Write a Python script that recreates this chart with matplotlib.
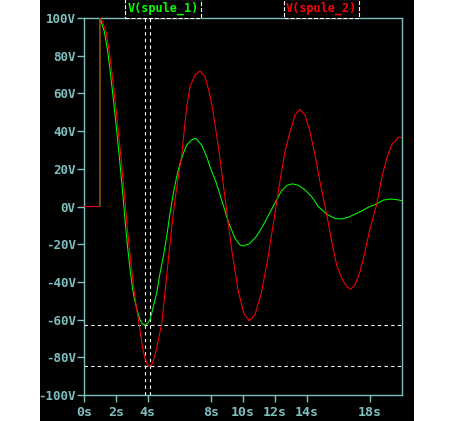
import matplotlib
matplotlib.use("Agg")
import matplotlib.pyplot as plt
from matplotlib.patches import Rectangle

# V(spule_2) - red trace
t_red = [0, 1.0, 1.0, 1.07, 1.2, 1.38, 1.55, 1.70, 1.85, 2.01, 2.17, 2.33, 2.47, 2.60,
         2.72, 2.85, 3.0, 3.13, 3.28, 3.44, 3.57, 3.69, 3.85, 4.0, 4.15, 4.26, 4.47,
         4.67, 4.89, 5.09, 5.30, 5.52, 5.72, 5.93, 6.14, 6.25, 6.46, 6.67, 6.98, 7.30,
         7.61, 7.88, 8.1, 8.5, 8.9, 9.3, 9.7, 10.05, 10.40, 10.75, 11.15, 11.55, 11.95,
         12.35, 12.64, 12.96, 13.27, 13.58, 13.9, 14.21, 14.53, 14.84, 15.26, 15.58,
         15.89, 16.21, 16.52, 16.77, 17.04, 17.36, 17.67, 17.99, 18.41, 18.72, 19.04,
         19.35, 19.77, 20.0]
v_red = [0, 0, 100, 99.5, 97, 92.7, 84.5, 75.1, 64, 52.1, 39, 25.6, 13, 0.8,
         -11, -22.2, -33.5, -43.4, -52.5, -61.1, -68.5, -75.2, -81, -84, -84.8, -84, -79,
         -71, -62, -46, -28.4, -10.7, 3.4, 15.8, 27, 36, 53, 63.6, 69.8, 71.9,
         68.9, 60.5, 51.3, 28.7, 2.3, -23.6, -44.8, -56.7, -60.7, -57.4, -46.0, -28.2, -6.8,
         14.9, 29.1, 39.7, 48.5, 51.5, 48.5, 39.7, 27.3, 13.2, -4, -18.7,
         -31, -38.1, -42.5, -43.9, -41.6, -34.6, -24, -11.6, 1.2, 15, 25.6,
         32.6, 36.7, 36.7]

# V(spule_1) - green trace
t_green = [0, 1.0, 1.0, 1.1, 1.28, 1.45, 1.6, 1.75, 1.91, 2.07, 2.23, 2.37, 2.50, 2.62,
           2.75, 2.9, 3.05, 3.2, 3.35, 3.5, 3.65, 3.84, 4.0, 4.15, 4.36, 4.57, 4.78,
           4.99, 5.20, 5.41, 5.62, 5.83, 6.04, 6.25, 6.46, 6.77, 7.02, 7.40, 7.72, 7.92,
           8.3, 8.7, 9.1, 9.5, 9.8, 10.02, 10.4, 10.8, 11.2, 11.6, 12.0, 12.4, 12.75,
           13.1, 13.48, 13.9, 14.32, 14.74, 15.26, 15.79, 16.21, 16.62, 17.04, 17.46,
           17.88, 18.41, 18.83, 19.31, 19.77, 20.0]
v_green = [0, 0, 100, 97.5, 92.7, 84.5, 75.1, 64, 52.1, 39, 25.6, 13, 0.8, -11,
           -22.2, -33.5, -43.4, -50, -55.5, -59.5, -62.2, -62.9, -62, -60.2, -53.1, -46, -35.4,
           -26.6, -16, -3.6, 7, 15.8, 22.9, 28.2, 32.6, 35.3, 36.2, 32.6, 26.4, 21.1,
           13, 2.3, -8.7, -16.9, -20.3, -21.0, -19.8, -16.3, -11.0, -4.7, 1.7, 8.0, 11.2,
           12, 11.3, 8.8, 5.2, -0.1, -4.0, -6.4, -6.6, -5.7, -4.1, -2.4,
           -0.4, 1.4, 3.4, 4.0, 3.5, 3.0]

cursor_t = [3.86, 4.17]
cursor_v = [-62.9, -84.8]

x_ticks = [0, 2, 4, 8, 10, 12, 14, 18]
y_ticks = list(range(-100, 101, 20))

TEAL = "#7fbfbf"
FONT = dict(family="DejaVu Sans Mono", weight="bold")

fig = plt.figure(figsize=(4.55, 4.21), dpi=100, facecolor="white")
fig.patches.append(Rectangle((40 / 455, 0), 374 / 455, 1, transform=fig.transFigure,
                             facecolor="black", edgecolor="none", zorder=-10))
ax = fig.add_axes([84 / 455, 26 / 421, 318 / 455, 377 / 421])
ax.set_facecolor("black")

ax.plot(t_green, v_green, color="#00ff00", lw=0.75, zorder=3)
ax.plot(t_red, v_red, color="#ff0000", lw=0.75, zorder=4)

for tc in cursor_t:
    ax.axvline(tc, color="white", lw=0.8, ls=(0, (3, 3)), zorder=2)
for vc in cursor_v:
    ax.axhline(vc, color="white", lw=0.8, ls=(0, (3, 3)), zorder=2)

ax.set_xlim(0, 20)
ax.set_ylim(-100, 100)
ax.set_xticks(x_ticks)
ax.set_xticklabels([f"{v}s" for v in x_ticks], **FONT, fontsize=9.5)
ax.set_yticks(y_ticks)
ax.set_yticklabels([f"{v}V" for v in y_ticks], **FONT, fontsize=9)
ax.tick_params(colors=TEAL, labelcolor=TEAL, length=5, width=1, direction="out")
ax.tick_params(axis="y", pad=1)
ax.tick_params(axis="x", pad=3)
for s in ax.spines.values():
    s.set_color(TEAL)
    s.set_linewidth(1)

box = dict(boxstyle="square,pad=0.2", facecolor="black", edgecolor="white", ls="--", lw=0.8)
fig.text(163 / 455, 1 - 8.5 / 421, "V(spule_1)", color="#00ff00", fontsize=8.5,
         ha="center", va="center", bbox=box, **FONT)
fig.text(321.5 / 455, 1 - 8.5 / 421, "V(spule_2)", color="#ff0000", fontsize=8.5,
         ha="center", va="center", bbox=box, **FONT)

fig.savefig("out.png", dpi=100, facecolor="white")
